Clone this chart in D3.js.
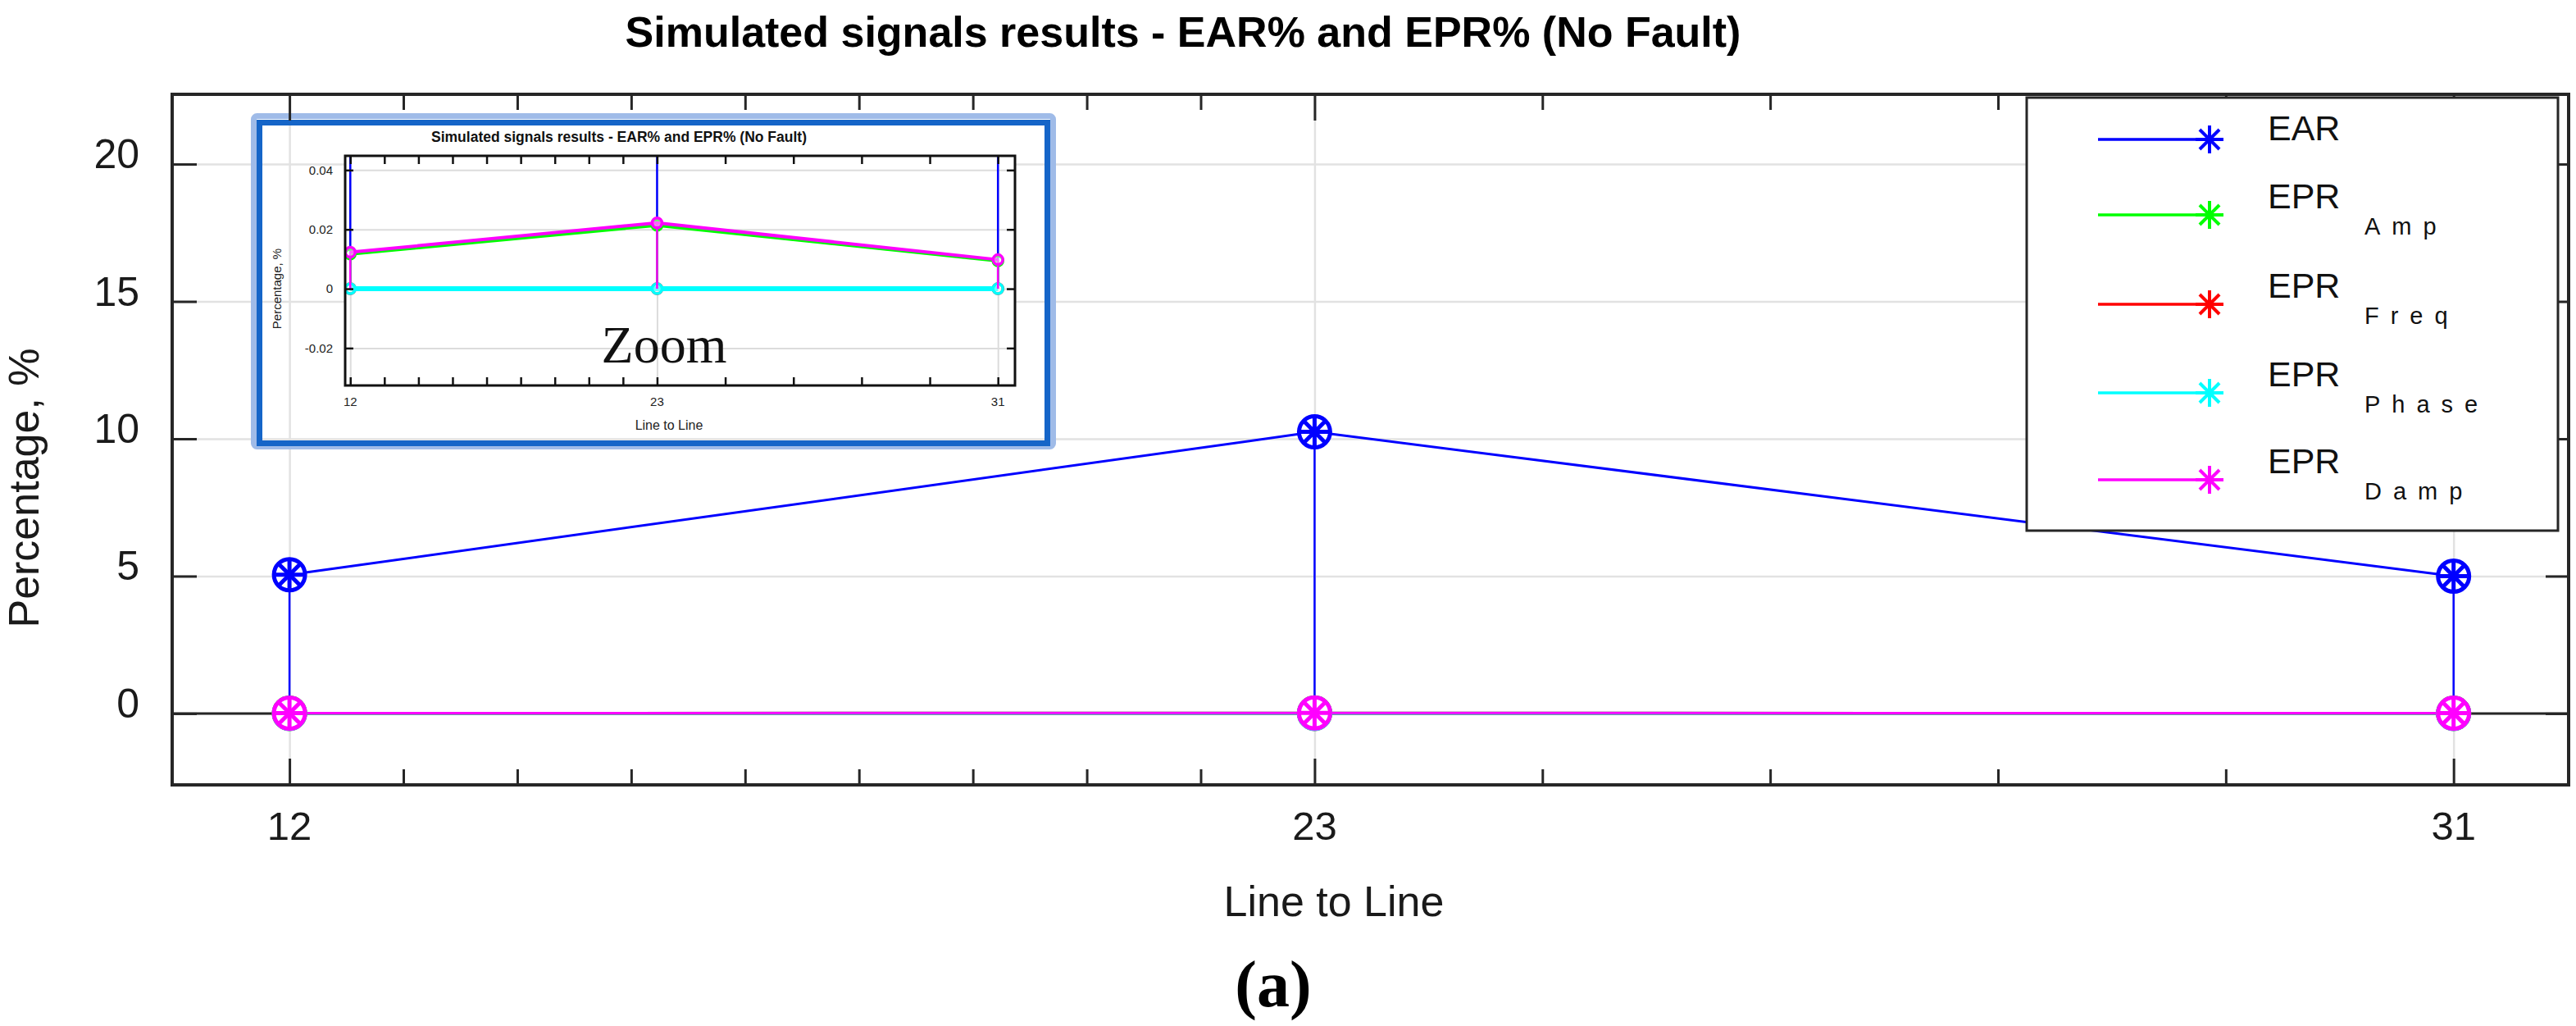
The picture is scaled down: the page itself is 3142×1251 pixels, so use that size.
<!DOCTYPE html>
<html>
<head>
<meta charset="utf-8">
<script src="https://cdn.jsdelivr.net/npm/d3@7/dist/d3.min.js"></script>
<style>
  html, body { margin: 0; padding: 0; background: #fff; }
  svg { display: block; font-family: "Liberation Sans", Arial, sans-serif; }
</style>
</head>
<body>
<svg id="chart" width="3142" height="1251"></svg>
<script>
// ---------------- DATA ----------------
const categories = ["12", "23", "31"];          // Line to Line
const xUnits = [0, 9, 19];                      // axis position of each category
const minorTicks = [1, 2, 3, 4, 5, 6, 7, 8, 11, 13, 15, 17];
const yTicks = [0, 5, 10, 15, 20];
const insetYTicks = [-0.02, 0, 0.02, 0.04];
const insetYTickLabels = ["-0.02", "0", "0.02", "0.04"];

const ear      = [5.05, 10.25, 5.0];
const eprAmp   = [0.0117, 0.0214, 0.0094];
const eprFreq  = [0, 0, 0];
const eprPhase = [0, 0, 0];
const eprDamp  = [0.0123, 0.0222, 0.0098];

const seriesLabels = ["EAR", "EPR", "EPR", "EPR", "EPR"];
const seriesSubs   = ["", "Amp", "Freq", "Phase", "Damp"];
const seriesColors = ["#0000ff", "#00ff00", "#ff0000", "#00ffff", "#ff00ff"];
const seriesValues = [ear, eprAmp, eprFreq, eprPhase, eprDamp];

const titleText = "Simulated signals results - EAR% and EPR% (No Fault)";
const xLabel = "Line to Line";
const yLabel = "Percentage, %";

// ---------------- LAYOUT ----------------
const serif = "'Liberation Serif', 'Times New Roman', serif";
const svg = d3.select("#chart");
const L = 210, R = 3133, T = 115, B = 957;
const x = d3.scaleLinear().domain([-1.03, 20.01]).range([L, R]);
const y = d3.scaleLinear().domain([-2.6, 22.54]).range([B, T]);
const axisColor = "#262626";

// grid
const grid = svg.append("g");
grid.append("g").attr("transform", `translate(0,${B})`)
  .call(d3.axisBottom(x).tickValues(xUnits).tickSize(-(B - T)).tickFormat(""));
grid.append("g").attr("transform", `translate(${L},0)`)
  .call(d3.axisLeft(y).tickValues(yTicks).tickSize(-(R - L)).tickFormat(""));
grid.selectAll(".domain").remove();
grid.selectAll("line").attr("stroke", "#e2e2e2").attr("stroke-width", 2.5);

// zero baseline (stem baseline)
svg.append("line").attr("x1", L).attr("x2", R).attr("y1", y(0)).attr("y2", y(0))
  .attr("stroke", axisColor).attr("stroke-width", 3);

// ---------------- INSET ----------------
const IL = 421, IR = 1238, IT = 190, IB = 470;
const ix = d3.scaleLinear().domain([-0.15, 19.5]).range([IL, IR]);
const iy = d3.scaleLinear().domain([-0.0326, 0.0448]).range([IB, IT]);
const inset = svg.append("g");

// frame
inset.append("rect").attr("x", 309.5).attr("y", 141.5).attr("width", 975).attr("height", 403)
  .attr("rx", 4).attr("fill", "none").attr("stroke", "#9fbbe8").attr("stroke-width", 7);
inset.append("rect").attr("x", 316.5).attr("y", 149.5).attr("width", 961).attr("height", 391)
  .attr("fill", "none").attr("stroke", "#1565c8").attr("stroke-width", 7);

inset.append("rect").attr("x", IL).attr("y", IT).attr("width", IR - IL).attr("height", IB - IT)
  .attr("fill", "#fff");

svg.append("defs").append("clipPath").attr("id", "iclip")
  .append("rect").attr("x", IL).attr("y", IT).attr("width", IR - IL).attr("height", IB - IT);

const ig = inset.append("g");
ig.append("g").attr("transform", `translate(0,${IB})`)
  .call(d3.axisBottom(ix).tickValues(xUnits).tickSize(-(IB - IT)).tickFormat(""));
ig.append("g").attr("transform", `translate(${IL},0)`)
  .call(d3.axisLeft(iy).tickValues(insetYTicks).tickSize(-(IR - IL)).tickFormat(""));
ig.selectAll(".domain").remove();
ig.selectAll("line").attr("stroke", "#dcdcdc").attr("stroke-width", 2);

const iplot = inset.append("g").attr("clip-path", "url(#iclip)");
const iline = d3.line().x((d, i) => ix(xUnits[i])).y(d => iy(d));
// EAR (off scale) line + stems
iplot.append("path").datum(ear).attr("d", iline).attr("fill", "none")
  .attr("stroke", seriesColors[0]).attr("stroke-width", 2.5);
iplot.selectAll(".istemB").data(ear).join("line")
  .attr("x1", (d, i) => ix(xUnits[i])).attr("x2", (d, i) => ix(xUnits[i]))
  .attr("y1", d => iy(d)).attr("y2", iy(0))
  .attr("stroke", seriesColors[0]).attr("stroke-width", 2.5);
const insetWidths = [2.5, 4, 4, 6, 4];
[1, 2, 3, 4].forEach(s => {
  const vals = seriesValues[s];
  iplot.append("g").selectAll("line").data(vals).join("line")
    .attr("x1", (d, i) => ix(xUnits[i])).attr("x2", (d, i) => ix(xUnits[i]))
    .attr("y1", d => iy(d)).attr("y2", iy(0))
    .attr("stroke", seriesColors[s]).attr("stroke-width", 2.5);
  iplot.append("path").datum(vals).attr("d", iline).attr("fill", "none")
    .attr("stroke", seriesColors[s]).attr("stroke-width", insetWidths[s]);
  iplot.append("g").selectAll("circle").data(vals).join("circle")
    .attr("cx", (d, i) => ix(xUnits[i])).attr("cy", d => iy(d)).attr("r", 6)
    .attr("fill", "#fff").attr("fill-opacity", 0.4)
    .attr("stroke", seriesColors[s]).attr("stroke-width", 3.5);
});

// inset axes box + ticks
const ia = inset.append("g");
const itk = 10;
const iAxes = [
  [d3.axisBottom(ix).tickValues(xUnits.concat(minorTicks)), `translate(0,${IB})`],
  [d3.axisTop(ix).tickValues(xUnits.concat(minorTicks)), `translate(0,${IT})`],
  [d3.axisLeft(iy).tickValues(insetYTicks), `translate(${IL},0)`],
  [d3.axisRight(iy).tickValues(insetYTicks), `translate(${IR},0)`]
];
iAxes.forEach(([ax, tr]) => {
  ia.append("g").attr("transform", tr).call(ax.tickSize(-itk).tickFormat(""));
});
ia.selectAll(".domain").remove();
ia.selectAll("line").attr("stroke", "#111").attr("stroke-width", 2.5);
ia.append("rect").attr("x", IL).attr("y", IT).attr("width", IR - IL).attr("height", IB - IT)
  .attr("fill", "none").attr("stroke", "#111").attr("stroke-width", 3);

// inset texts
inset.append("g").selectAll("text").data(insetYTicks).join("text")
  .attr("x", 406).attr("y", d => iy(d)).attr("dy", "0.35em")
  .attr("text-anchor", "end").attr("font-size", 15).attr("fill", "#222")
  .text((d, i) => insetYTickLabels[i]);
inset.append("g").selectAll("text").data(categories).join("text")
  .attr("x", (d, i) => ix(xUnits[i])).attr("y", 495)
  .attr("text-anchor", "middle").attr("font-size", 15).attr("fill", "#222")
  .text(d => d);
inset.append("text").attr("x", 816).attr("y", 524).attr("text-anchor", "middle")
  .attr("font-size", 16).attr("fill", "#222").text(xLabel);
inset.append("text").attr("transform", "translate(343,352) rotate(-90)")
  .attr("text-anchor", "middle").attr("font-size", 15).attr("fill", "#222").text(yLabel);
inset.append("text").attr("x", 755).attr("y", 173).attr("text-anchor", "middle")
  .attr("font-size", 17.5).attr("font-weight", "bold").attr("fill", "#111").text(titleText);
inset.append("text").attr("x", 810).attr("y", 442).attr("text-anchor", "middle")
  .style("font-family", serif)
  .attr("font-size", 64).attr("fill", "#111").text("Zoom");

// ---------------- MAIN SERIES ----------------
const plot = svg.append("g");
const mline = d3.line().x((d, i) => x(xUnits[i])).y(d => y(d));

function drawMarker(g, cx, cy, color) {
  const m = g.append("g").attr("transform", `translate(${cx},${cy})`);
  m.append("circle").attr("r", 19).attr("fill", "#fff").attr("stroke", color).attr("stroke-width", 5);
  [0, 45, 90, 135].forEach(a => {
    const rad = a * Math.PI / 180, r = 17;
    m.append("line")
      .attr("x1", -r * Math.cos(rad)).attr("y1", -r * Math.sin(rad))
      .attr("x2", r * Math.cos(rad)).attr("y2", r * Math.sin(rad))
      .attr("stroke", color).attr("stroke-width", 5);
  });
  m.append("circle").attr("r", 5).attr("fill", color);
}

const drawOrder = [0, 1, 2, 3, 4];
drawOrder.forEach(s => {
  const vals = seriesValues[s];
  plot.append("g").selectAll("line").data(vals).join("line")
    .attr("x1", (d, i) => x(xUnits[i])).attr("x2", (d, i) => x(xUnits[i]))
    .attr("y1", d => y(d)).attr("y2", y(0))
    .attr("stroke", seriesColors[s]).attr("stroke-width", 2.5);
  plot.append("path").datum(vals).attr("d", mline).attr("fill", "none")
    .attr("stroke", seriesColors[s]).attr("stroke-width", 3);
});
drawOrder.forEach(s => {
  seriesValues[s].forEach((v, i) => drawMarker(plot, x(xUnits[i]), y(v), seriesColors[s]));
});

// ---------------- MAIN AXES ----------------
const axes = svg.append("g");
axes.append("g").attr("transform", `translate(0,${B})`)
  .call(d3.axisBottom(x).tickValues(xUnits).tickSize(-32).tickFormat(""));
axes.append("g").attr("transform", `translate(0,${B})`)
  .call(d3.axisBottom(x).tickValues(minorTicks).tickSize(-19).tickFormat(""));
axes.append("g").attr("transform", `translate(0,${T})`)
  .call(d3.axisTop(x).tickValues(xUnits).tickSize(-32).tickFormat(""));
axes.append("g").attr("transform", `translate(0,${T})`)
  .call(d3.axisTop(x).tickValues(minorTicks).tickSize(-19).tickFormat(""));
axes.append("g").attr("transform", `translate(${L},0)`)
  .call(d3.axisLeft(y).tickValues(yTicks).tickSize(-30).tickFormat(""));
axes.append("g").attr("transform", `translate(${R},0)`)
  .call(d3.axisRight(y).tickValues(yTicks).tickSize(-28).tickFormat(""));
axes.selectAll(".domain").remove();
axes.selectAll("line").attr("stroke", axisColor).attr("stroke-width", 3);

// tick labels
svg.append("g").selectAll("text").data(yTicks).join("text")
  .attr("x", 170).attr("y", d => y(d) + 5)
  .attr("text-anchor", "end").attr("font-size", 50).attr("fill", "#1a1a1a")
  .text(d => d);
svg.append("g").selectAll("text").data(categories).join("text")
  .attr("x", (d, i) => x(xUnits[i])).attr("y", 1024)
  .attr("text-anchor", "middle").attr("font-size", 49).attr("fill", "#1a1a1a")
  .text(d => d);

// ---------------- LEGEND ----------------
const legend = svg.append("g");
legend.append("rect").attr("x", 2472).attr("y", 119).attr("width", 648).attr("height", 528)
  .attr("fill", "#fff").attr("stroke", axisColor).attr("stroke-width", 3);
const legendY = [170, 262, 371, 479, 585];
seriesLabels.forEach((lab, s) => {
  const ly = legendY[s];
  legend.append("line").attr("x1", 2559).attr("x2", 2700).attr("y1", ly).attr("y2", ly)
    .attr("stroke", seriesColors[s]).attr("stroke-width", 3.5);
  [0, 45, 90, 135].forEach(a => {
    const rad = a * Math.PI / 180, r = 17;
    legend.append("line")
      .attr("x1", 2695 - r * Math.cos(rad)).attr("y1", ly - r * Math.sin(rad))
      .attr("x2", 2695 + r * Math.cos(rad)).attr("y2", ly + r * Math.sin(rad))
      .attr("stroke", seriesColors[s]).attr("stroke-width", 4);
  });
  const sub = seriesSubs[s];
  legend.append("text").attr("x", 2766).attr("y", sub ? ly - 8 : ly + 1)
    .attr("font-size", 43).attr("fill", "#111").text(lab);
  if (sub) {
    legend.append("text").attr("x", 2884).attr("y", ly + 24)
      .attr("font-size", 29).attr("letter-spacing", 14).attr("fill", "#111").text(sub);
  }
});

// border on top
svg.append("rect").attr("x", L).attr("y", T).attr("width", R - L).attr("height", B - T)
  .attr("fill", "none").attr("stroke", axisColor).attr("stroke-width", 4);

// ---------------- TITLES ----------------
svg.append("text").attr("x", 1443).attr("y", 57).attr("text-anchor", "middle")
  .attr("font-size", 52).attr("font-weight", "bold").attr("fill", "#000").text(titleText);
svg.append("text").attr("x", 1627).attr("y", 1117).attr("text-anchor", "middle")
  .attr("font-size", 52).attr("fill", "#1a1a1a").text(xLabel);
svg.append("text").attr("transform", "translate(47,595) rotate(-90)")
  .attr("text-anchor", "middle").attr("font-size", 52).attr("fill", "#1a1a1a").text(yLabel);
svg.append("text").attr("x", 1553).attr("y", 1227).attr("text-anchor", "middle")
  .style("font-family", serif)
  .attr("font-size", 80).attr("font-weight", "bold").attr("fill", "#000").text("(a)");
</script>
</body>
</html>
